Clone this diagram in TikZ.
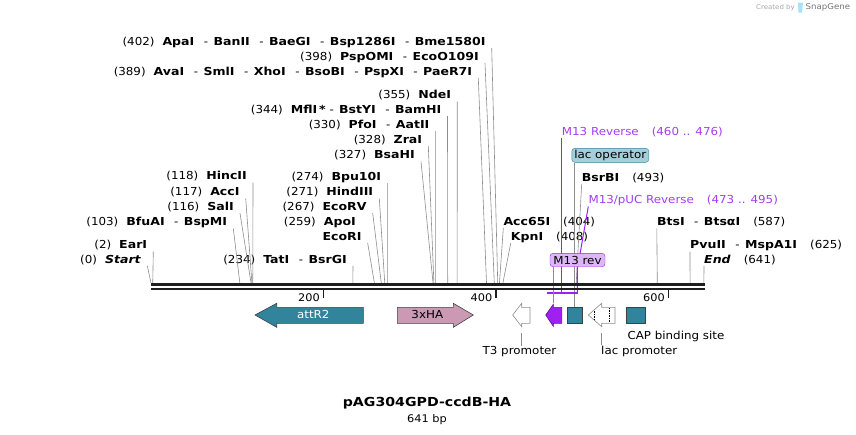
\documentclass[tikz,border=0pt]{standalone}
\usepackage{fontspec}
\setmainfont{DejaVu Sans}[FakeStretch=1.08, BoldFeatures={FakeStretch=1.14}, BoldItalicFeatures={FakeStretch=1.14}]
\usetikzlibrary{positioning}

\definecolor{featteal}{HTML}{31849B}
\definecolor{oppale}{HTML}{A6CEDA}
\definecolor{hapink}{HTML}{CC99B5}
\definecolor{primpurple}{HTML}{A020F0}
\definecolor{primtext}{HTML}{A43DF0}
\definecolor{primbox}{HTML}{DDB6F7}
\definecolor{leadgray}{HTML}{8C8C8C}
\definecolor{dnablack}{HTML}{1E1E1E}

\newcommand{\numgap}{\hspace{8pt}}
\newcommand{\enzsep}{\hspace{9.5pt}-\hspace{5.5pt}}
\newcommand{\tailgap}{\hspace{13pt}}

\begin{document}
\begin{tikzpicture}[x=1pt,y=-1pt,
    enz/.style={anchor=south east, inner xsep=6pt, inner ysep=1pt, text height=8pt, text depth=1.5pt, font=\fontsize{11}{13}\selectfont},
    enzr/.style={enz, anchor=south west, inner xsep=0pt},
    primlbl/.style={enzr, text=primtext},
    leader/.style={draw=leadgray, line width=0.6pt},
    primline/.style={draw=primpurple, line width=1pt},
    dna/.style={draw=dnablack},
    feat/.style={draw=black!75, line width=0.6pt},
    featlbl/.style={font=\fontsize{11}{13}\selectfont, inner sep=1pt}]

\useasboundingbox (0,0) rectangle (856,434);

% cut sites along the sequence
\foreach \s in {0,2,103,116,117,118,234,259,267,271,274,327,328,330,344,355,389,398,402,404,408,493,587,625,641}
    \coordinate (s\s) at ({151+0.8625*\s},283);

% enzymes, left side
\node[enz] (start) at (147.3,265.8) {(0)\numgap\textbf{\textit{Start}}};
\node[enz] (earI) at (153.3,251.5) {(2)\numgap\textbf{EarI}};
\node[enz] (bfuAI) at (233.3,228.5) {(103)\numgap\textbf{BfuAI}\enzsep\textbf{BspMI}};
\node[enz] (salI) at (240,213.2) {(116)\numgap\textbf{SalI}};
\node[enz] (accI) at (245.7,198.5) {(117)\numgap\textbf{AccI}};
\node[enz] (hincII) at (253,182.5) {(118)\numgap\textbf{HincII}};
\node[enz] (tatI) at (353,265.8) {(234)\numgap\textbf{TatI}\enzsep\textbf{BsrGI}};
\node[enz] (apoI) at (362,228.5) {(259)\numgap\textbf{ApoI}};
\node[enz] (ecoRI) at (367.7,243.2) {\textbf{EcoRI}};
\node[enz] (ecoRV) at (372.7,213.2) {(267)\numgap\textbf{EcoRV}};
\node[enz] (hindIII) at (379.3,198.5) {(271)\numgap\textbf{HindIII}};
\node[enz] (bpu10I) at (387.3,183.2) {(274)\numgap\textbf{Bpu10I}};
\node[enz] (bsaHI) at (421,161.5) {(327)\numgap\textbf{BsaHI}};
\node[enz] (zraI) at (428.3,145.8) {(328)\numgap\textbf{ZraI}};
\node[enz] (pfoI) at (435.6,130.8) {(330)\numgap\textbf{PfoI}\enzsep\textbf{AatII}};
\node[enz] (mflI) at (447.5,116.2) {(344)\numgap\textbf{MflI\,*}\hspace{4pt}-\hspace{5pt}\textbf{BstYI}\enzsep\textbf{BamHI}};
\node[enz] (ndeI) at (457.2,101.5) {(355)\numgap\textbf{NdeI}};
\node[enz] (avaI) at (478.3,78.2) {(389)\numgap\textbf{AvaI}\enzsep\textbf{SmlI}\enzsep\textbf{XhoI}\enzsep\textbf{BsoBI}\enzsep\textbf{PspXI}\enzsep\textbf{PaeR7I}};
\node[enz] (pspOMI) at (485,63.2) {(398)\numgap\textbf{PspOMI}\enzsep\textbf{EcoO109I}};
\node[enz] (apaI) at (491.7,48.2) {(402)\numgap\textbf{ApaI}\enzsep\textbf{BanII}\enzsep\textbf{BaeGI}\enzsep\textbf{Bsp1286I}\enzsep\textbf{Bme1580I}};

% enzymes, right side
\node[enzr] (acc65I) at (503.3,228.2) {\textbf{Acc65I}\tailgap(404)};
\node[enzr] (kpnI) at (510.7,243.2) {\textbf{KpnI}\tailgap(408)};
\node[enzr] (bsrBI) at (581.7,183.8) {\textbf{BsrBI}\tailgap(493)};
\node[enzr] (btsI) at (656.8,228.2) {\textbf{BtsI}\enzsep\textbf{BtsαI}\tailgap(587)};
\node[enzr] (pvuII) at (690,251.5) {\textbf{PvuII}\enzsep\textbf{MspA1I}\tailgap(625)};
\node[enzr] (endS) at (704,265.8) {\textbf{\textit{End}}\tailgap(641)};

\draw[leader] (start.south east) -- (s0);
\draw[leader] (earI.south east) -- (s2);
\draw[leader] (bfuAI.south east) -- (s103);
\draw[leader] (salI.south east) -- (s116);
\draw[leader] (accI.south east) -- (s117);
\draw[leader] (hincII.south east) -- (s118);
\draw[leader] (tatI.south east) -- (s234);
\draw[leader] (ecoRI.south east) -- (s259);
\draw[leader] (ecoRV.south east) -- (s267);
\draw[leader] (hindIII.south east) -- (s271);
\draw[leader] (bpu10I.south east) -- (s274);
\draw[leader] (bsaHI.south east) -- (s327);
\draw[leader] (zraI.south east) -- (s328);
\draw[leader] (pfoI.south east) -- (s330);
\draw[leader] (mflI.south east) -- (s344);
\draw[leader] (ndeI.south east) -- (s355);
\draw[leader] (avaI.south east) -- (s389);
\draw[leader] (pspOMI.south east) -- (s398);
\draw[leader] (apaI.south east) -- (s402);
\draw[leader] (acc65I.south west) -- (s404);
\draw[leader] (kpnI.south west) -- (s408);
\draw[leader] (bsrBI.south west) -- (s493);
\draw[leader] (btsI.south west) -- (s587);
\draw[leader] (pvuII.south west) -- (s625);
\draw[leader] (endS.south west) -- (s641);

% primers and lac operator
\node[primlbl] (m13r) at (561.7,138.2) {M13 Reverse\tailgap(460 .. 476)};
\node[primlbl] (pucr) at (588.3,206.5) {M13/pUC Reverse\tailgap(473 .. 495)};
\node[draw=featteal, fill=oppale, rounded corners=3pt, minimum width=77pt, minimum height=14pt, inner sep=0pt, font=\fontsize{11}{13}\selectfont] (lacop) at (610.3,155.3) {lac operator};

\coordinate (m13feat) at (553.3,303.3);
\coordinate (opfeat) at (574.3,307.3);
\draw[leader] (opfeat |- lacop.south) -- (opfeat);
\draw[primline] (m13r.south west) -- (561.7,293.3);
\draw[primline] (pucr.south west) -- (580,254) -- (577.3,268) -- (577.3,293.3);
\draw[primpurple, line width=2pt] (547.3,293.3) -- (578.3,293.3);

\node[draw=primpurple, fill=primbox, rounded corners=3pt, minimum width=55pt, minimum height=13.4pt, inner sep=0pt, font=\fontsize{11}{13}\selectfont] (m13box) at (577.5,260) {M13 rev};
\draw[leader] (m13box.south -| m13feat) -- (m13feat);

% sequence
\draw[dna, line width=3pt] (151,284.5) -- (705,284.5);
\draw[dna, line width=2.4pt] (151,289.2) -- (705,289.2);
\foreach \t in {200,400,600} {
    \draw[dna, line width=1.6pt] ({151+0.8625*\t},290) -- ++(0,7.5);
    \node[anchor=east, inner sep=0pt, font=\fontsize{10.5}{12}\selectfont] (tick\t) at ({151+0.8625*\t-3.5},297.5) {\t};
}

% features
\filldraw[feat, fill=featteal] (255,315) -- (276.7,303.3) -- (276.7,307.3) -- (363.3,307.3) -- (363.3,323.3) -- (276.7,323.3) -- (276.7,327.3) -- cycle;
\node[featlbl, text=white] (attR2) at (313.3,314.5) {attR2};
\filldraw[feat, fill=hapink] (397.3,307.3) -- (453.3,307.3) -- (453.3,303.3) -- (473.3,315) -- (453.3,327.3) -- (453.3,323.3) -- (397.3,323.3) -- cycle;
\node[featlbl] (ha) at (427.3,314.5) {3xHA};
\filldraw[draw=black!45, line width=0.6pt, fill=white] (512.7,315) -- (521.7,303.3) -- (521.7,307.3) -- (530,307.3) -- (530,323.3) -- (521.7,323.3) -- (521.7,326.7) -- cycle;
\filldraw[draw=primpurple!60!black, line width=0.6pt, fill=primpurple] (545.7,315) -- (553.3,304.3) -- (553.3,307.3) -- (561.7,307.3) -- (561.7,323.3) -- (553.3,323.3) -- (553.3,326.3) -- cycle;
\filldraw[feat, fill=featteal] (567.3,307.3) rectangle (582.3,323.3);
\filldraw[draw=black!45, line width=0.6pt, fill=white] (588.3,315) -- (601.7,303.3) -- (601.7,307.3) -- (615,307.3) -- (615,323.3) -- (601.7,323.3) -- (601.7,326.7) -- cycle;
\draw[densely dotted, line width=0.7pt] (594,310.5) -- (594,320) (609.3,307.8) -- (609.3,323);
\filldraw[feat, fill=featteal] (626.7,307.3) rectangle (645,323.3);

\node[featlbl] (t3lbl) at (519.5,352) {T3 promoter};
\node[featlbl, anchor=north west, inner xsep=0pt] (laclbl) at (601,345) {lac promoter};
\node[featlbl, anchor=west, inner xsep=0pt] (caplbl) at (627.3,336.7) {CAP binding site};
\coordinate (t3feat) at (521.7,333.3);
\coordinate (lacfeat) at (601,333.3);
\draw[leader] (t3feat) -- (t3feat |- t3lbl.north);
\draw[leader] (lacfeat) -- (lacfeat |- laclbl.north);

% title
\node[font=\bfseries\fontsize{12.4}{15}\selectfont] (title) at (427,403.3) {pAG304GPD-ccdB-HA};
\node[below=-2pt of title, font=\fontsize{10.5}{12}\selectfont] (bplen) {641 bp};

% watermark
\node[anchor=east, inner sep=0pt, text=black!35, font=\fontsize{6.5}{8}\selectfont] (made) at (795,7.5) {Created by};
\fill[cyan!35] (798,2.5) -- (803,2.5) -- (802,12.5) -- (798.5,12.5) -- cycle;
\node[anchor=west, inner sep=0pt, text=black!55, font=\fontsize{8}{9}\selectfont] (snap) at (805.5,7.5) {SnapGene};
\end{tikzpicture}
\end{document}
